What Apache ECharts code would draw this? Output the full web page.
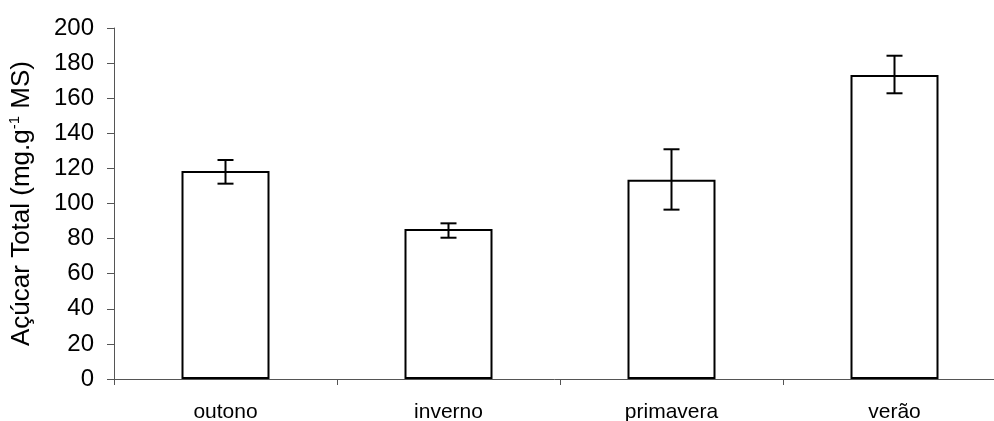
<!DOCTYPE html>
<html>
<head>
<meta charset="utf-8">
<script src="https://cdn.jsdelivr.net/npm/echarts@6/dist/echarts.min.js"></script>
<style>
  html, body { margin: 0; padding: 0; background: #fff; }
  #main { width: 994px; height: 421px; }
</style>
</head>
<body>
<div id="main"></div>
<script type="text/javascript">
    // estações
    var categories = ['outono', 'inverno', 'primavera', 'verão'];
    // açúcar total médio
    var values = [118.5, 85.5, 113.6, 173.2];
    // limites das barras de erro
    var errLow = [111.3, 80.5, 96.5, 162.8];
    var errHigh = [124.8, 88.7, 130.9, 184.2];
    var yTicks = [0, 200, 20];

    var errData = [];
    for (var i = 0; i < categories.length; i++) {
        errData.push([i, errLow[i], errHigh[i]]);
    }

    var myChart = echarts.init(document.getElementById('main'));
    var option = {
        animation: false,
        grid: {
            left: 114,
            right: -12,
            top: 28,
            bottom: 42,
            outerBoundsMode: 'none'
        },
        xAxis: {
            type: 'category',
            data: categories,
            axisLine: { lineStyle: { color: '#555', width: 1 } },
            axisTick: { show: true, length: 6, lineStyle: { color: '#555' } },
            axisLabel: { color: '#000', fontSize: 21, fontFamily: 'Liberation Sans, Arial', margin: 23 }
        },
        yAxis: {
            type: 'value',
            min: yTicks[0],
            max: yTicks[1],
            interval: yTicks[2],
            name: '{t|Açúcar Total (mg.g}{s|-1}{t| MS)}',
            nameLocation: 'middle',
            nameRotate: 90,
            nameGap: 78,
            nameTextStyle: {
                rich: {
                    t: { fontSize: 26, color: '#000', fontFamily: 'Liberation Sans, Arial' },
                    s: { fontSize: 15, color: '#000', fontFamily: 'Liberation Sans, Arial', padding: [0, 0, 14, 0] }
                }
            },
            splitLine: { show: false },
            axisLine: { show: true, lineStyle: { color: '#555', width: 1 } },
            axisTick: { show: true, length: 7, lineStyle: { color: '#555' } },
            axisLabel: { color: '#000', fontSize: 24, fontFamily: 'Liberation Sans, Arial', margin: 20 }
        },
        series: [
            {
                type: 'bar',
                data: values,
                barWidth: 88,
                itemStyle: { color: '#fff', borderColor: '#000', borderWidth: 2 }
            },
            {
                type: 'custom',
                data: errData,
                z: 10,
                renderItem: function (params, api) {
                    var x = api.value(0);
                    var lo = api.coord([x, api.value(1)]);
                    var hi = api.coord([x, api.value(2)]);
                    var w = 8;
                    var st = { stroke: '#000', lineWidth: 2 };
                    return {
                        type: 'group',
                        children: [
                            { type: 'line', shape: { x1: lo[0], y1: lo[1], x2: hi[0], y2: hi[1] }, style: st },
                            { type: 'line', shape: { x1: lo[0] - w, y1: lo[1], x2: lo[0] + w, y2: lo[1] }, style: st },
                            { type: 'line', shape: { x1: hi[0] - w, y1: hi[1], x2: hi[0] + w, y2: hi[1] }, style: st }
                        ]
                    };
                }
            }
        ]
    };
    myChart.setOption(option);
</script>
</body>
</html>
